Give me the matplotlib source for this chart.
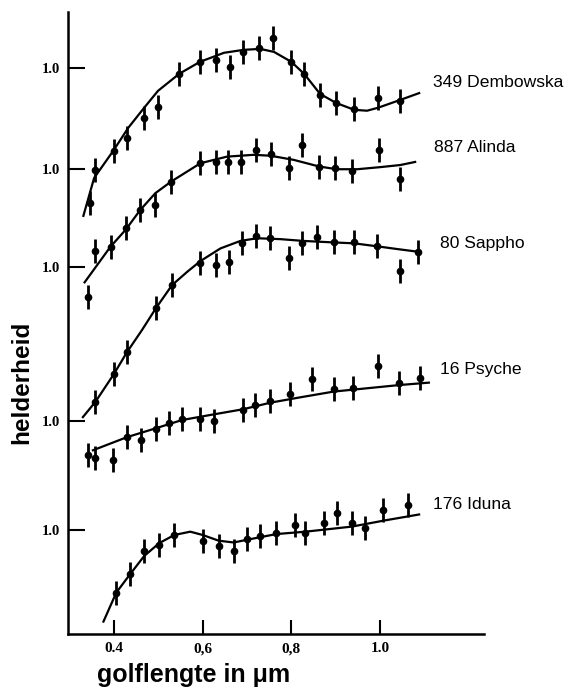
import matplotlib
matplotlib.use("Agg")
import matplotlib.pyplot as plt

# relative reflectance per asteroid (wavelength in micron)
names = ["349 Dembowska", "887 Alinda", "80 Sappho", "16 Psyche", "176 Iduna"]

dem_wl = [0.345, 0.356, 0.399, 0.429, 0.467, 0.499, 0.546, 0.593, 0.629, 0.661,
          0.692, 0.727, 0.759, 0.799, 0.829, 0.864, 0.902, 0.942, 0.995, 1.045]
dem_r = [0.549, 0.660, 0.724, 0.766, 0.832, 0.870, 0.980, 1.021, 1.027, 1.004,
         1.052, 1.066, 1.099, 1.018, 0.980, 0.908, 0.884, 0.862, 0.898, 0.891]
dem_fit_wl = [0.330, 0.355, 0.398, 0.432, 0.468, 0.499, 0.547, 0.594, 0.648, 0.693, 0.730,
              0.761, 0.800, 0.829, 0.865, 0.901, 0.942, 0.971, 0.996, 1.046, 1.091]
dem_fit_r = [0.503, 0.633, 0.723, 0.800, 0.867, 0.923, 0.980, 1.020, 1.050, 1.060, 1.063,
             1.053, 1.020, 0.980, 0.913, 0.883, 0.860, 0.857, 0.867, 0.893, 0.917]

ali_wl = [0.341, 0.356, 0.392, 0.426, 0.459, 0.493, 0.529, 0.595, 0.630, 0.657,
          0.687, 0.721, 0.754, 0.794, 0.825, 0.863, 0.898, 0.937, 0.998, 1.046]
ali_r = [0.574, 0.727, 0.741, 0.802, 0.863, 0.880, 0.958, 1.019, 1.022, 1.024,
         1.024, 1.063, 1.049, 1.002, 1.080, 1.008, 1.002, 0.993, 1.063, 0.967]
ali_fit_wl = [0.332, 0.392, 0.426, 0.459, 0.493, 0.529, 0.595, 0.655, 0.715,
              0.753, 0.806, 0.863, 0.903, 0.949, 1.001, 1.046, 1.082]
ali_fit_r = [0.619, 0.741, 0.797, 0.863, 0.919, 0.958, 1.019, 1.041, 1.047,
             1.044, 1.030, 1.008, 0.999, 0.999, 1.006, 1.013, 1.024]

sap_wl = [0.358, 0.399, 0.429, 0.495, 0.531, 0.593, 0.629, 0.659, 0.689, 0.721,
          0.753, 0.794, 0.824, 0.858, 0.896, 0.942, 0.994, 1.045, 1.086]
sap_r = [0.551, 0.642, 0.716, 0.864, 0.940, 1.012, 1.007, 1.018, 1.079, 1.104,
         1.096, 1.031, 1.079, 1.101, 1.082, 1.082, 1.069, 0.987, 1.051]
sap_fit_wl = [0.328, 0.358, 0.399, 0.429, 0.463, 0.495, 0.531, 0.565, 0.595, 0.640,
              0.685, 0.723, 0.775, 0.828, 0.896, 0.942, 0.994, 1.039, 1.086]
sap_fit_r = [0.497, 0.551, 0.642, 0.716, 0.790, 0.864, 0.940, 0.984, 1.020, 1.062,
             1.087, 1.096, 1.093, 1.087, 1.082, 1.079, 1.069, 1.060, 1.051]

psy_wl = [0.341, 0.358, 0.398, 0.429, 0.461, 0.495, 0.525, 0.553, 0.593, 0.625,
          0.691, 0.719, 0.753, 0.797, 0.847, 0.896, 0.939, 0.996, 1.043, 1.090]
psy_r = [0.887, 0.876, 0.870, 0.946, 0.937, 0.973, 0.994, 1.006, 1.006, 1.000,
         1.037, 1.053, 1.068, 1.090, 1.139, 1.106, 1.109, 1.183, 1.128, 1.142]
psy_fit_wl = [0.350, 0.429, 0.495, 0.553, 0.625, 0.691, 0.753, 0.821, 0.896, 0.971, 1.046, 1.113]
psy_fit_r = [0.901, 0.946, 0.976, 1.003, 1.022, 1.039, 1.061, 1.079, 1.098, 1.109, 1.120, 1.128]

idu_wl = [0.405, 0.435, 0.468, 0.502, 0.536, 0.600, 0.636, 0.670, 0.700, 0.730,
          0.766, 0.809, 0.832, 0.873, 0.903, 0.937, 0.967, 1.007, 1.063]
idu_r = [0.791, 0.853, 0.928, 0.950, 0.983, 0.964, 0.947, 0.931, 0.969, 0.980,
         0.989, 1.017, 0.989, 1.022, 1.056, 1.022, 1.006, 1.067, 1.083]
idu_fit_wl = [0.375, 0.405, 0.435, 0.468, 0.502, 0.536, 0.572, 0.600, 0.636, 0.670,
              0.700, 0.766, 0.832, 0.937, 1.009, 1.091]
idu_fit_r = [0.691, 0.791, 0.850, 0.913, 0.956, 0.983, 0.994, 0.983, 0.964, 0.958,
             0.967, 0.986, 0.994, 1.011, 1.031, 1.052]

err = 0.04

# vertical shift of each spectrum so the curves are stacked
offsets = [0.887, 0.55, 0.223, -0.29, -0.653]
label_pos = [(1.120, 1.837), (1.122, 1.620), (1.136, 1.303), (1.136, 0.883), (1.120, 0.430)]

series = [
    (dem_wl, dem_r, dem_fit_wl, dem_fit_r),
    (ali_wl, ali_r, ali_fit_wl, ali_fit_r),
    (sap_wl, sap_r, sap_fit_wl, sap_fit_r),
    (psy_wl, psy_r, psy_fit_wl, psy_fit_r),
    (idu_wl, idu_r, idu_fit_wl, idu_fit_r),
]

fig = plt.figure(figsize=(5.68, 6.88), dpi=100)
ax = fig.add_axes([68 / 568, 54 / 688, 416 / 568, 622 / 688])

for (wl, r, fwl, fr), off, name, (lx, ly) in zip(series, offsets, names, label_pos):
    ax.plot(fwl, [v + off for v in fr], color="black", lw=1.6, solid_capstyle="butt")
    ax.errorbar(wl, [v + off for v in r], yerr=err, fmt="o", color="black",
                ms=4.5, elinewidth=2.0, capsize=0)
    ax.text(lx, ly, name, fontsize=12.6, family="Liberation Sans", va="center", ha="left")

ax.set_xlim(0.296, 1.235)
ax.set_ylim(0, 2.073)

ax.set_xticks([0.4, 0.6, 0.8, 1.0])
ax.set_xticklabels(["0.4", "0,6", "0,8", "1.0"])
ax.set_yticks([o + 1 for o in offsets])
ax.set_yticklabels(["1.0"] * len(offsets))
ax.tick_params(axis="x", direction="in", length=10, width=1.5, pad=6)
ax.tick_params(axis="y", direction="in", length=12, width=1.5, pad=6)
for lab in ax.get_xticklabels():
    lab.set_family("Liberation Serif")
    lab.set_fontweight("bold")
    lab.set_fontsize(11)
for lab in ax.get_yticklabels():
    lab.set_family("Liberation Serif")
    lab.set_fontweight("bold")
    lab.set_fontsize(10.5)

for s in ["top", "right"]:
    ax.spines[s].set_visible(False)
for s in ["left", "bottom"]:
    ax.spines[s].set_linewidth(1.8)

fig.text(194 / 568, 1 - 675 / 688, "golflengte in \u03bcm", fontsize=18,
         fontweight="bold", family="Liberation Sans", ha="center", va="center")
fig.text(22 / 568, 1 - 382 / 688, "helderheid", fontsize=17.5, fontweight="bold",
         family="Liberation Sans", rotation=90, ha="center", va="center")

fig.savefig("out.png", dpi=100)
